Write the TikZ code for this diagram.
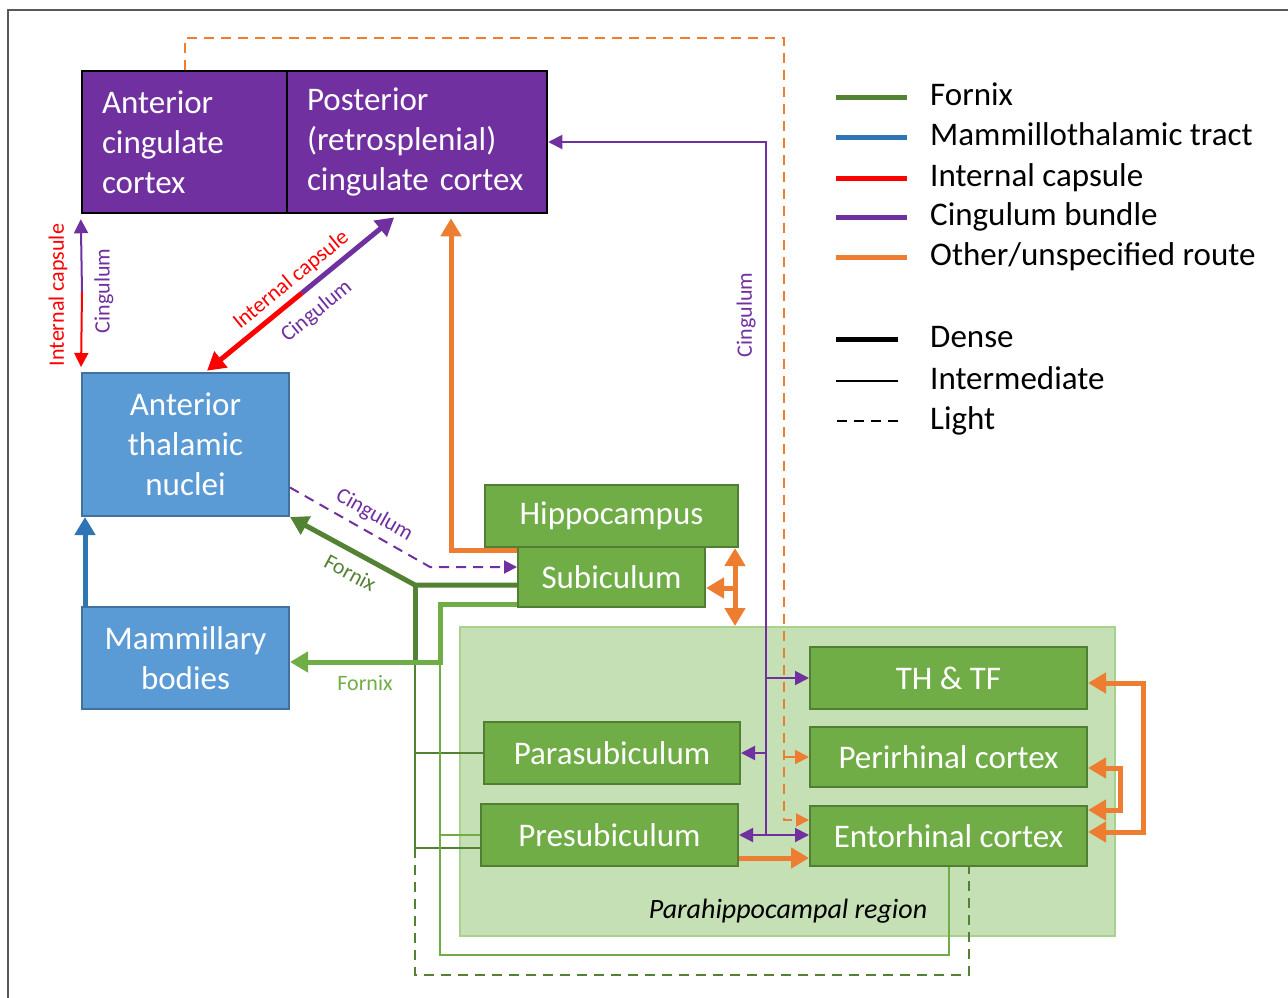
\documentclass[tikz,border=0pt]{standalone}
\usepackage{fontspec}
\setmainfont{Carlito}
\usetikzlibrary{arrows.meta,calc}

\definecolor{boxgreen}{HTML}{70AD47}
\definecolor{boxgreenline}{HTML}{507E32}
\definecolor{fornixdark}{HTML}{548235}
\definecolor{fornixlight}{HTML}{70AD47}
\definecolor{cingpurple}{HTML}{7030A0}
\definecolor{mttblue}{HTML}{2E75B6}
\definecolor{boxblue}{HTML}{5B9BD5}
\definecolor{boxblueline}{HTML}{41719C}
\definecolor{otherorange}{HTML}{ED7D31}
\definecolor{regionfill}{HTML}{C5E0B4}
\definecolor{regionline}{HTML}{A9D18E}

\tikzset{
  box/.style={line width=2pt, text=white, inner sep=0pt, align=center, font=\fontsize{33}{40}\selectfont},
  gbox/.style={box, draw=boxgreenline, fill=boxgreen},
  bbox/.style={box, draw=boxblueline, fill=boxblue},
  pbox/.style={box, draw=black, fill=cingpurple, line width=2.5pt, align=left, inner xsep=20pt},
  dense/.style={line width=5pt, >={Triangle[length=18pt,width=20pt]}},
  inter/.style={line width=2pt, >={Triangle[length=14pt,width=14pt]}},
  light/.style={line width=2pt, dash pattern=on 10pt off 7pt, >={Triangle[length=13pt,width=13pt]}},
  tract/.style={font=\fontsize{22}{26}\selectfont, inner sep=2pt},
  legtext/.style={anchor=west, inner sep=0pt, font=\fontsize{33}{40}\selectfont, text height=23pt, text depth=7pt},
}

\begin{document}
\begin{tikzpicture}[x=1pt,y=-1pt]
    \useasboundingbox (0,0) rectangle (1288,998);
    \draw[line width=2.5pt, black!65] (8,998) -- (8,10) -- (1288,10);

    % regions and boxes
    \node[draw=regionline, fill=regionfill, line width=2pt, minimum width=655pt, minimum height=309pt] (region) at (787.5,781.5) {};
    \node[font=\fontsize{28}{32}\selectfont\itshape, inner sep=0pt] (regionlabel) at (788,911) {Parahippocampal region};

    \node[pbox, minimum width=205pt, minimum height=142pt, text width=165pt] (acc) at (184.5,142) {Anterior\\cingulate\\cortex};
    \node[pbox, minimum width=260pt, minimum height=142pt, text width=220pt] (pcc) at (417,142) {Posterior\\(retrosplenial)\\cingulate cortex};
    \node[bbox, minimum width=207pt, minimum height=143pt] (atn) at (185.5,444.5) {Anterior\\thalamic\\nuclei};
    \node[bbox, minimum width=207pt, minimum height=102pt] (mb) at (185.5,658) {Mammillary\\bodies};
    \node[gbox, minimum width=253pt, minimum height=62pt] (hippo) at (611.5,516) {Hippocampus};
    \node[gbox, minimum width=187pt, minimum height=60pt] (sub) at (611.5,577) {Subiculum};
    \node[gbox, minimum width=277pt, minimum height=62pt] (thtf) at (948.5,678) {TH \& TF};
    \node[gbox, minimum width=277pt, minimum height=60pt] (peri) at (948.5,757) {Perirhinal cortex};
    \node[gbox, minimum width=277pt, minimum height=60pt] (ento) at (948.5,836) {Entorhinal cortex};
    \node[gbox, minimum width=256pt, minimum height=62pt] (parasub) at (612,753) {Parasubiculum};
    \node[gbox, minimum width=257pt, minimum height=62pt] (pres) at (609.5,835) {Presubiculum};

    % bends
    \coordinate (odash) at (784,38);
    \coordinate (entoin) at ([yshift=16pt]ento.west);
    \coordinate (cingx) at (766,143);
    \coordinate (orangeup) at (451,550);
    \coordinate (cdash) at (430,567);
    \coordinate (fxd) at (415,585);
    \coordinate (fxd2) at (415,658);
    \coordinate (presdk) at ([yshift=-13pt]pres.west);
    \coordinate (fxbot) at (415,975);
    \coordinate (fxl) at (440,604);
    \coordinate (fxl2) at (440,662);
    \coordinate (fxlbot) at (440,955);
    \coordinate (osub) at (735,588);
    \coordinate (prout) at ([yshift=-23pt]pres.east);
    \coordinate (oloop) at (1143,683);
    \coordinate (iloop) at (1120,768);
    \coordinate (lmid) at (82,292);
    \coordinate (dtop) at ([xshift=-19pt]pcc.south);
    \coordinate (dbot) at ([xshift=20pt]atn.north);
    \coordinate (dmid) at ($(dtop)!0.5!(dbot)$);

    % other/unspecified route
    \draw[light, otherorange, ->] (acc.north) |- (odash) -- (entoin -| odash) -- (entoin);
    \draw[inter, otherorange, ->] (peri.west -| odash) -- (peri.west);
    \draw[dense, otherorange, ->, shorten >=4pt] (sub.north west |- orangeup) -| (pcc.south -| orangeup);
    \draw[dense, otherorange, <->] (hippo.south -| osub) -- (region.north -| osub);
    \draw[dense, otherorange, ->] (osub) -- ([yshift=-11pt]sub.east);
    \draw[dense, otherorange, ->] (prout) -- (prout -| ento.west);
    \draw[dense, otherorange, <->] ([yshift=-5pt]thtf.east) -- (oloop) |- ([yshift=4pt]ento.east);
    \draw[dense, otherorange, <->] ([yshift=-11pt]peri.east) -- (iloop) |- ([yshift=26pt]ento.east);

    % cingulum bundle
    \draw[inter, cingpurple, ->] (pres.east -| cingx) |- (pcc.east);
    \draw[inter, cingpurple, ->] (thtf.west -| cingx) -- (thtf.west);
    \draw[inter, cingpurple, ->] (parasub.east -| cingx) -- (parasub.east);
    \draw[inter, cingpurple, <->] (pres.east) -- (pres.east -| ento.west);
    \node[tract, rotate=90, text=cingpurple] (cinglabel) at (746,315) {Cingulum};
    \draw[light, cingpurple, ->] ([yshift=-43pt]atn.east) -- node[tract, sloped, above=5pt, pos=0.54, text=cingpurple] {Cingulum} (cdash) -- (cdash -| sub.west);

    % internal capsule / cingulum to the cortex
    \draw[inter, cingpurple, ->, shorten >=5pt] (lmid) -- (acc.south west);
    \draw[inter, red, ->, shorten >=5pt] (lmid) -- (atn.north west);
    \node[tract, rotate=90, text=red] (iclabel) at (58,295) {Internal capsule};
    \node[tract, rotate=90, text=cingpurple] (cglabel) at (104,291) {Cingulum};
    \draw[dense, cingpurple, ->, shorten >=5pt] (dmid) -- (dtop);
    \draw[dense, red, ->, shorten >=2pt] (dmid) -- (dbot);
    \path (dbot) -- node[tract, sloped, above=5pt, text=red] {Internal capsule} node[tract, sloped, below=12pt, text=cingpurple] {Cingulum} (dtop);

    % mammillothalamic tract
    \draw[dense, mttblue, ->] ([xshift=4pt]mb.north west) -- ([xshift=4pt]atn.south west);

    % fornix
    \draw[dense, fornixdark, ->] (sub.west |- fxd) -- (fxd) -- node[tract, sloped, below=8pt, pos=0.44, text=fornixdark] {Fornix} (atn.south east);
    \draw[dense, fornixdark, line cap=rect] (fxd) -- (fxd2);
    \draw[inter, fornixdark] (fxd2) -- (presdk -| fxd2) -- (presdk);
    \draw[inter, fornixdark] (parasub.west -| fxd) -- (parasub.west);
    \draw[light, fornixdark] (presdk -| fxbot) -- (fxbot) -| ([xshift=20pt]ento.south);
    \draw[dense, fornixlight, ->] (sub.west |- fxl) -- (fxl) -- (fxl2) -- node[tract, below=9pt, text=fornixlight] {Fornix} ([yshift=-4pt]mb.east);
    \draw[inter, fornixlight] (fxl2) -- (fxlbot) -| (ento.south);
    \draw[inter, fornixlight] (pres.west -| fxl) -- (pres.west);

    % legend
    \node[legtext] (lgfornix) at (930,97) {Fornix};
    \node[legtext] (lgmtt) at (930,137) {Mammillothalamic tract};
    \node[legtext] (lgic) at (930,178) {Internal capsule};
    \node[legtext] (lgcing) at (930,217) {Cingulum bundle};
    \node[legtext] (lgother) at (930,257) {Other/unspecified route};
    \node[legtext] (lgdense) at (930,339) {Dense};
    \node[legtext] (lginter) at (930,381) {Intermediate};
    \node[legtext] (lglight) at (930,421) {Light};
    \draw[line width=5pt, fornixdark] ([xshift=-23pt]lgfornix.west) -- ++(-71,0);
    \draw[line width=5pt, mttblue] ([xshift=-23pt]lgmtt.west) -- ++(-71,0);
    \draw[line width=5pt, red] ([xshift=-23pt]lgic.west) -- ++(-71,0);
    \draw[line width=5pt, cingpurple] ([xshift=-23pt]lgcing.west) -- ++(-71,0);
    \draw[line width=5pt, otherorange] ([xshift=-23pt]lgother.west) -- ++(-71,0);
    \draw[line width=5pt] ([xshift=-32pt]lgdense.west) -- ++(-62,0);
    \draw[line width=2pt] ([xshift=-32pt]lginter.west) -- ++(-62,0);
    \draw[line width=2pt, dash pattern=on 10pt off 7pt] ([xshift=-32pt]lglight.west) -- ++(-62,0);
\end{tikzpicture}
\end{document}
